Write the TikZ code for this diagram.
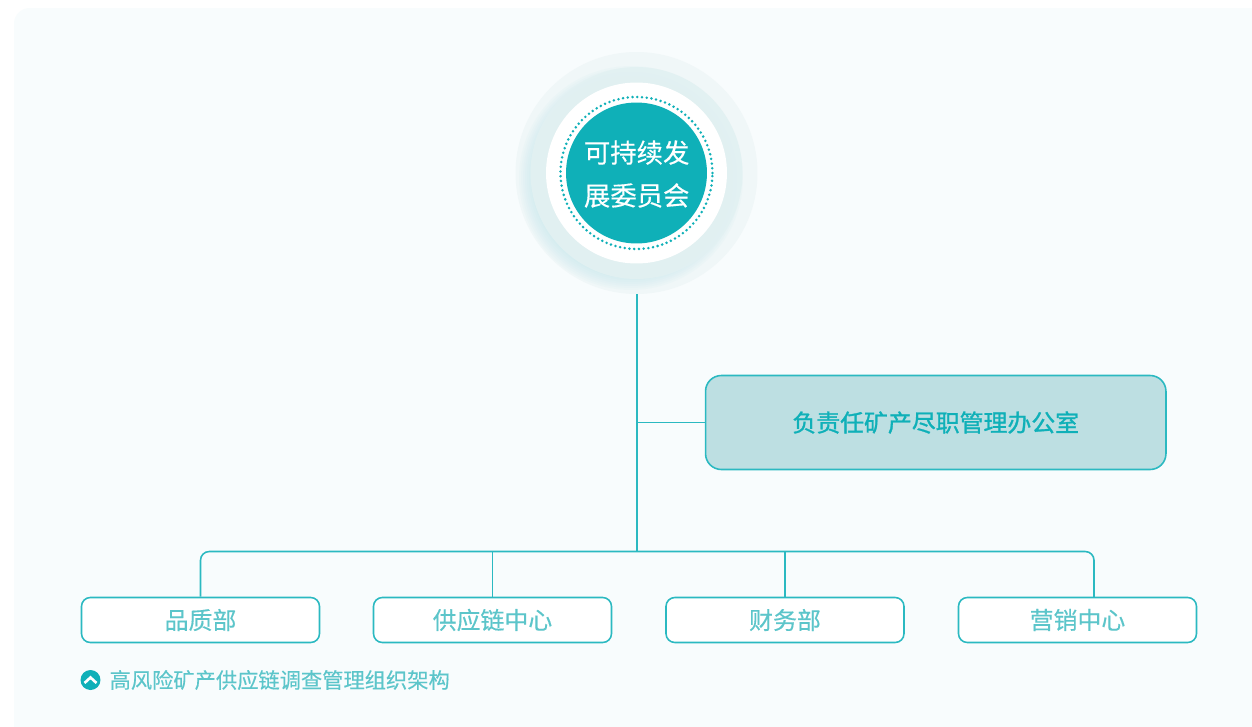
\documentclass[tikz,border=0pt]{standalone}
\usepackage{fontspec}
\setmainfont{Noto Sans CJK SC}
\newfontfamily\boldcjk{Noto Sans CJK SC}[FakeBold=1.2]
\newfontfamily\softcjk{Noto Sans CJK SC}[FakeBold=0.3]
\definecolor{panelbg}{HTML}{F8FCFD}
\definecolor{teal}{HTML}{0FB0B8}
\definecolor{edgeteal}{HTML}{2BB9C1}
\definecolor{softtext}{HTML}{5CC5CA}
\definecolor{officebg}{HTML}{BDDFE2}
\definecolor{ringout}{HTML}{F0F7F8}
\definecolor{ringin}{HTML}{E2F1F2}
\definecolor{glow}{HTML}{BFE6EC}
\tikzset{
	link/.style={draw=edgeteal,line width=0.9pt},
	dept/.style={draw=edgeteal,line width=0.9pt,fill=white,rounded corners=5pt,minimum width=4.76cm,minimum height=0.9cm,inner sep=0pt,text=softtext,font=\softcjk\fontsize{13.6}{16}\selectfont},
	ring/.style={circle,inner sep=0pt}
}
\begin{document}
\begin{tikzpicture}[x=0.02cm,y=-0.02cm]
			\clip (0,0) rectangle (1252,727);
			\fill[white] (0,0) rectangle (1252,727);
			\fill[panelbg,rounded corners=9pt] (14,8) rectangle (1290,770);
			
			\node[ring,fill=ringout,minimum size=4.84cm] (Committee) at (636.5,173) {};
			% soft glow at the lower left of the rings
			\begin{scope}
				\clip (636.5,173) circle (121);
				\foreach \r in {112,110,...,98}
					\fill[glow,opacity=0.09] (631,178) circle (\r);
			\end{scope}
			\node[ring,fill=ringin,fill opacity=0.96,minimum size=4.24cm] (MiddleRing) at (636.5,173) {};
			\node[ring,fill=white,minimum size=3.62cm] (WhiteRing) at (636.5,173) {};
			\node[ring,draw=teal,line width=1.6pt,line cap=round,dash pattern=on 0pt off 2.7pt,minimum size=3.04cm] (DotRing) at (636.5,173) {};
			\node[ring,fill=teal,minimum size=2.82cm] (Center) at (636.5,173) {};
			\node[text=white,align=center,inner sep=0pt,font=\softcjk\fontsize{15}{24.4}\selectfont] (CenterText) at (636.7,174) {可持续发\\展委员会};
			
			\node[draw=edgeteal,line width=0.9pt,fill=officebg,rounded corners=9pt,minimum width=9.21cm,minimum height=1.88cm,inner sep=0pt,text=teal,font=\boldcjk\fontsize{13.6}{16}\selectfont] (Office) at (935.75,422.5) {负责任矿产尽职管理办公室};
			
			\node[dept] (Quality) at (200.5,620) {品质部};
			\node[dept] (Supply) at (492.5,620) {供应链中心};
			\node[dept] (Finance) at (785,620) {财务部};
			\node[dept] (Marketing) at (1077.5,620) {营销中心};
			
			\coordinate (Branch) at (636.8,422.5);
			\coordinate (Split) at (636.8,551.5);
			\coordinate (MarketingTop) at (1094,597.5);
			
			\draw[link] (Committee.south -| Split) to (Split);
			\draw[link] (Branch) to (Office.west);
			\draw[link,rounded corners=5pt] (Quality.north) |- (Split) -| (MarketingTop);
			\draw[link] (Supply.north) to (Supply.north |- Split);
			\draw[link] (Finance.north) to (Finance.north |- Split);
			
			\node[circle,fill=teal,minimum size=0.4cm,inner sep=0pt] (CaptionIcon) at (90.5,680) {};
			\draw[white,line width=1.5pt] (84.5,683) -- (90.5,677.5) -- (96.5,683);
			\node[anchor=west,inner sep=0pt,text=softtext,font=\softcjk\fontsize{12.1}{15}\selectfont] (Caption) at (109.3,680) {高风险矿产供应链调查管理组织架构};
\end{tikzpicture}
\end{document}
